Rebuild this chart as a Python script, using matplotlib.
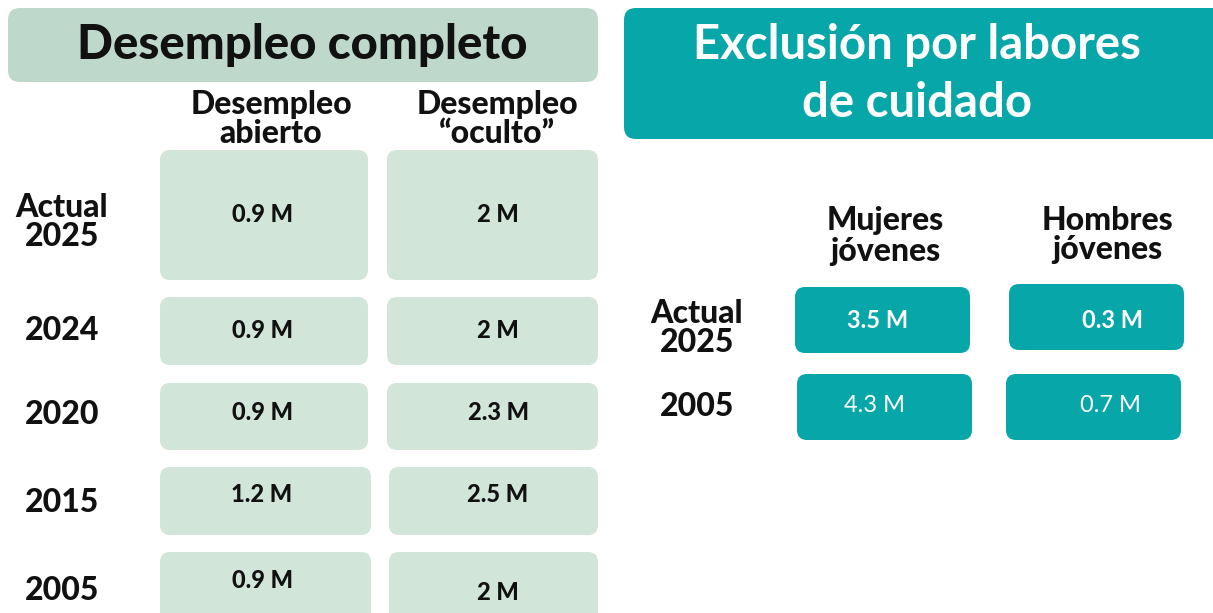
import matplotlib
matplotlib.use("Agg")
import matplotlib.pyplot as plt
from matplotlib.patches import FancyBboxPatch

# ---- data ----
left_title = "Desempleo completo"
left_cols = ["Desempleo\nabierto", "Desempleo\n\u201coculto\u201d"]
left_rows = ["Actual\n2025", "2024", "2020", "2015", "2005"]
abierto = [0.9, 0.9, 0.9, 1.2, 0.9]
oculto = [2, 2, 2.3, 2.5, 2]

right_title = "Exclusi\u00f3n por labores\nde cuidado"
right_cols = ["Mujeres\nj\u00f3venes", "Hombres\nj\u00f3venes"]
right_rows = ["Actual\n2025", "2005"]
mujeres = [3.5, 4.3]
hombres = [0.3, 0.7]

# ---- style ----
FONT = ["Lato", "DejaVu Sans"]
plt.rcParams['font.family'] = FONT
LIGHT_TITLE = "#bed9cb"
LIGHT_CELL = "#d1e6d8"
TEAL = "#07a6a8"

W, H = 1213, 613
fig = plt.figure(figsize=(W / 100, H / 100), dpi=100)
ax = fig.add_axes([0, 0, 1, 1])
ax.set_xlim(0, W)
ax.set_ylim(H, 0)
ax.axis("off")


def box(x0, y0, x1, y1, color, r=10):
    p = FancyBboxPatch((x0, y0), x1 - x0, y1 - y0,
                       boxstyle=f"round,pad=0,rounding_size={r}",
                       fc=color, ec="none", zorder=1)
    ax.add_patch(p)


def txt(x, y, s, size, color="#111111", weight="black", ls=0.95):
    ax.text(x, y, s, ha="center", va="center", fontsize=size, color=color,
            fontweight=weight, linespacing=ls, zorder=3)


def fmt(v):
    return f"{v:g} M"

# ---- left panel ----
box(8, 8, 598, 82, LIGHT_TITLE, r=12)
txt(302, 45, left_title, 34)
txt(271, 119, left_cols[0], 23, ls=1.0)
txt(497, 119, left_cols[1], 23, ls=1.0)

left_boxes = [
    ((160, 150, 368, 280), (387, 150, 598, 280)),
    ((160, 297, 368, 365), (387, 297, 598, 365)),
    ((160, 383, 368, 450), (387, 383, 598, 450)),
    ((160, 467, 371, 535), (389, 467, 598, 535)),
    ((160, 552, 371, 625), (389, 552, 598, 625)),
]
left_text_y = [(215, 215), (330, 330), (412, 413), (494, 495), (581, 592)]
left_label_y = [222, 331, 415, 503, 591]
for i, lab in enumerate(left_rows):
    b1, b2 = left_boxes[i]
    box(*b1, LIGHT_CELL)
    box(*b2, LIGHT_CELL)
    txt(62, left_label_y[i], lab, 23, ls=1.0)
    txt(262, left_text_y[i][0], fmt(abierto[i]), 17)
    txt(498, left_text_y[i][1], fmt(oculto[i]), 17)

# ---- right panel ----
box(624, 8, 1225, 139, TEAL, r=12)
txt(917, 74, right_title, 34, color="white", weight="bold", ls=1.4)
txt(885, 236, right_cols[0], 23, ls=1.05)
txt(1107, 235, right_cols[1], 23, ls=1.0)

right_boxes = [
    ((795, 287, 970, 353), (1009, 284, 1184, 350)),
    ((797, 374, 972, 440), (1006, 374, 1181, 440)),
]
right_text = [((878, 320), (1113, 320)), ((875, 405), (1110, 406))]
right_label_y = [328, 407]
for i, lab in enumerate(right_rows):
    b1, b2 = right_boxes[i]
    box(*b1, TEAL)
    box(*b2, TEAL)
    txt(697, right_label_y[i], lab, 23, ls=1.0)
    w = "bold" if i == 0 else "normal"
    txt(*right_text[i][0], fmt(mujeres[i]), 17, color="white", weight=w)
    txt(*right_text[i][1], fmt(hombres[i]), 17, color="white", weight=w)

fig.savefig("out.png", dpi=100)
